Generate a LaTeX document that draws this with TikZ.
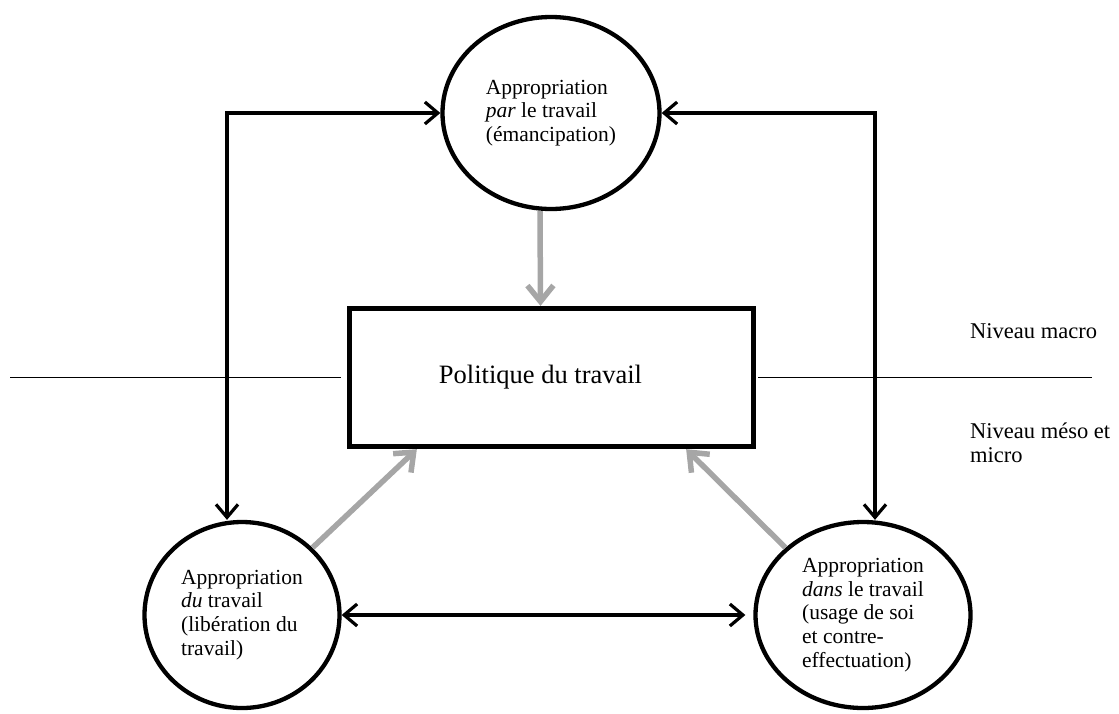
\documentclass[tikz,border=0pt]{standalone}
\usepackage{fontspec}
\setmainfont{Liberation Serif}
\usetikzlibrary{shapes.geometric, arrows.meta}
\definecolor{flechegris}{gray}{0.65}

\begin{document}
\begin{tikzpicture}[x=1pt, y=-1pt,
    bulle/.style={draw, ellipse, line width=4.3pt, inner sep=0pt, align=left, font=\fontsize{21.5}{23.8}\selectfont},
    lien/.style={line width=3.2pt, {Straight Barb[length=13pt,width=22pt]}-{Straight Barb[length=13pt,width=22pt]}},
    retour/.style={line width=5.5pt, color=flechegris, -{Straight Barb[length=16pt,width=26pt]}},
    niveau/.style={line width=1.7pt},
    etiquette/.style={inner sep=0pt, align=left, font=\fontsize{22.5}{23.5}\selectfont}]

        \useasboundingbox (0,0) rectangle (1119,713);

        % Politique (centre)
        \node[draw, line width=5.3pt, minimum width=404pt, minimum height=138pt, font=\fontsize{26.5}{30}\selectfont]
            (pol) at (551.5,377.5) {Politique du travail\hspace*{22pt}};

        % Ellipses
        \node[bulle, minimum width=217pt, minimum height=192pt] (par) at (551,113)
            {Appropriation\\\textit{par} le travail\\(émancipation)};
        \node[bulle, minimum width=195pt, minimum height=186pt] (du) at (242,615)
            {Appropriation\\\textit{du} travail\\(libération du\\travail)};
        \node[bulle, minimum width=215pt, minimum height=186pt] (dans) at (863,615)
            {Appropriation\\\textit{dans} le travail\\(usage de soi\\et contre-\\effectuation)};

        % Niveaux
        \coordinate (bordG) at (10,377.5);
        \coordinate (bordD) at (1092,377.5);
        \draw[niveau] (bordG) -- ([xshift=-6pt]pol.west);
        \draw[niveau] ([xshift=2pt]pol.east) -- (bordD);
        \node[etiquette, anchor=base west] (macro) at (970,338) {Niveau macro};
        \node[etiquette, anchor=north west] (meso) at (970,423) {Niveau méso et\\micro};

        % Liens noirs
        \coordinate (coinG) at (227,113);
        \coordinate (coinD) at (875,113);
        \draw[lien] (par.west) -- (coinG) -- (coinG |- du.north);
        \draw[lien] (par.east) -- (coinD) -- (coinD |- dans.north);
        \draw[lien] (du.east) -- ([xshift=-8pt]dans.west);

        % Fleches grises
        \draw[retour] ([xshift=-11pt]par.south) -- ([xshift=-11pt]pol.north);
        \draw[retour] (du.north east) -- ([xshift=70pt]pol.south west);
        \draw[retour] (dans.north west) -- ([xshift=-70pt]pol.south east);
\end{tikzpicture}
\end{document}
